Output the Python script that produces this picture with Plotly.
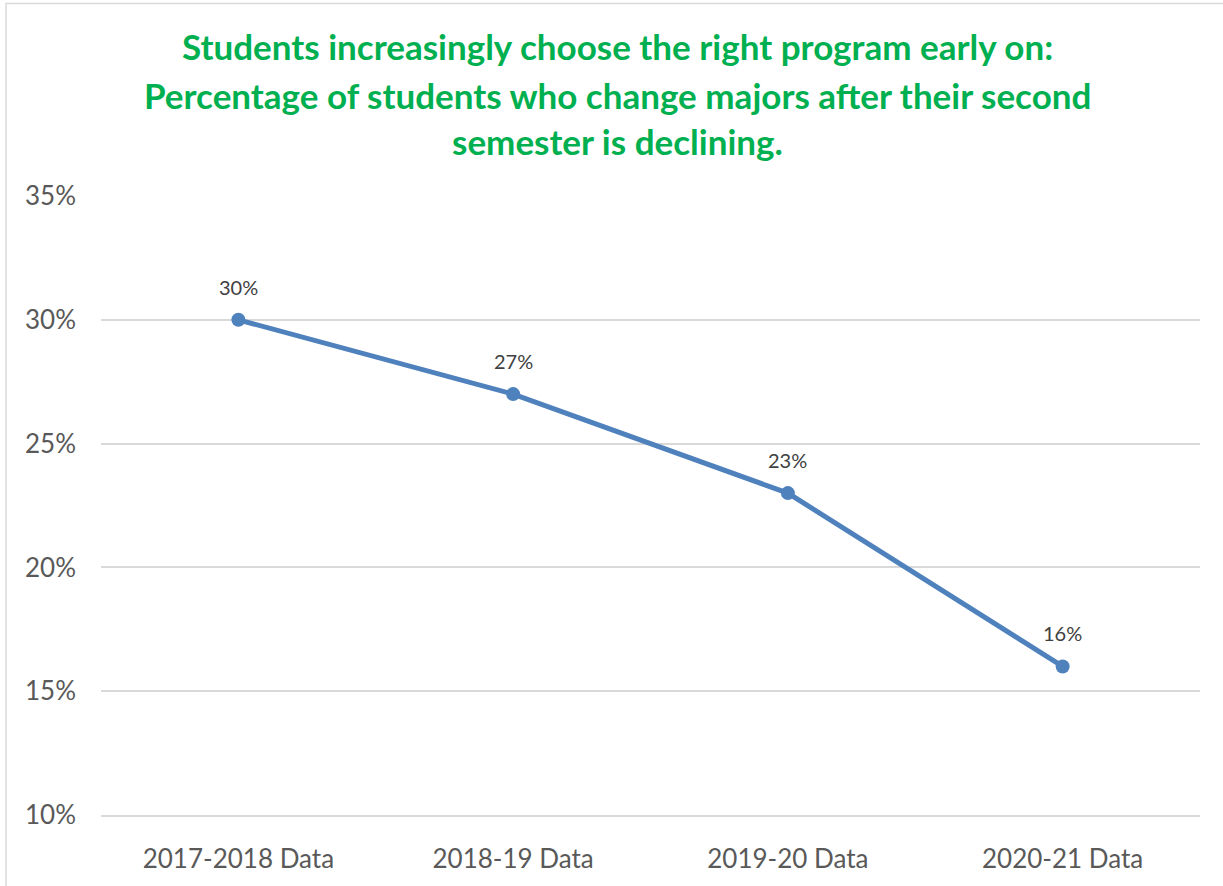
"""Line chart: share of students changing majors after second semester."""
import plotly.graph_objects as go

# data
categories = ["2017-2018 Data", "2018-19 Data", "2019-20 Data", "2020-21 Data"]
pct_change_major = [0.30, 0.27, 0.23, 0.16]
data_labels = ["30%", "27%", "23%", "16%"]
title_lines = [
    "Students increasingly choose the right program early on:",
    "Percentage of students who change majors after their second",
    "semester is declining.",
]

W, H = 1223, 886
L, R, T, B = 101, 23, 196, 69
plot_w = W - L - R
plot_h = H - T - B

green = "#00b050"
line_blue = "#4f81bd"
gray_txt = "#595959"
grid_col = "#d9d9d9"
font_fam = "Lato, 'Open Sans', sans-serif"

fig = go.Figure()
fig.add_trace(go.Scatter(
    x=categories, y=pct_change_major, mode="lines+markers",
    line=dict(color=line_blue, width=5),
    marker=dict(color=line_blue, size=14),
    hoverinfo="skip", showlegend=False,
))

# value labels above the points
for c, v, lab in zip(categories, pct_change_major, data_labels):
    fig.add_annotation(x=c, y=v, text=lab, showarrow=False, yshift=33,
                       font=dict(family=font_fam, size=20, color="#404040"))

# title, one annotation per line so the spacing matches
title_y = [46, 95, 141]
for txt, py in zip(title_lines, title_y):
    fig.add_annotation(xref="paper", yref="paper",
                       x=(617 - L) / plot_w, y=(H - B - py) / plot_h,
                       text="<b>" + txt + "</b>", showarrow=False,
                       xanchor="center", yanchor="middle",
                       font=dict(family=font_fam, size=35, color=green))

# chart frame (cropped on the right/bottom in the original)
fig.add_shape(type="rect", xref="paper", yref="paper",
              x0=(6 - L) / plot_w, x1=1.05, y0=-0.3, y1=(H - B - 3) / plot_h,
              line=dict(color=grid_col, width=1.5), layer="below")

fig.update_layout(
    width=W, height=H,
    margin=dict(l=L, r=R, t=T, b=B),
    paper_bgcolor="white", plot_bgcolor="white",
    font=dict(family=font_fam, color=gray_txt),
    xaxis=dict(range=[-0.5, 3.5], showgrid=False, zeroline=False,
               showline=True, linecolor=grid_col, linewidth=1.5,
               tickfont=dict(size=26, color=gray_txt),
               ticklabelstandoff=20),
    yaxis=dict(range=[0.10, 0.35], dtick=0.05, tickformat=".0%",
               showgrid=True, gridcolor=grid_col, gridwidth=1.5,
               zeroline=False, showline=False,
               tickfont=dict(size=26, color=gray_txt),
               ticklabelstandoff=24),
)

fig.write_html("out.html", config={"displayModeBar": False},
               post_script="document.body.style.margin='0';")
